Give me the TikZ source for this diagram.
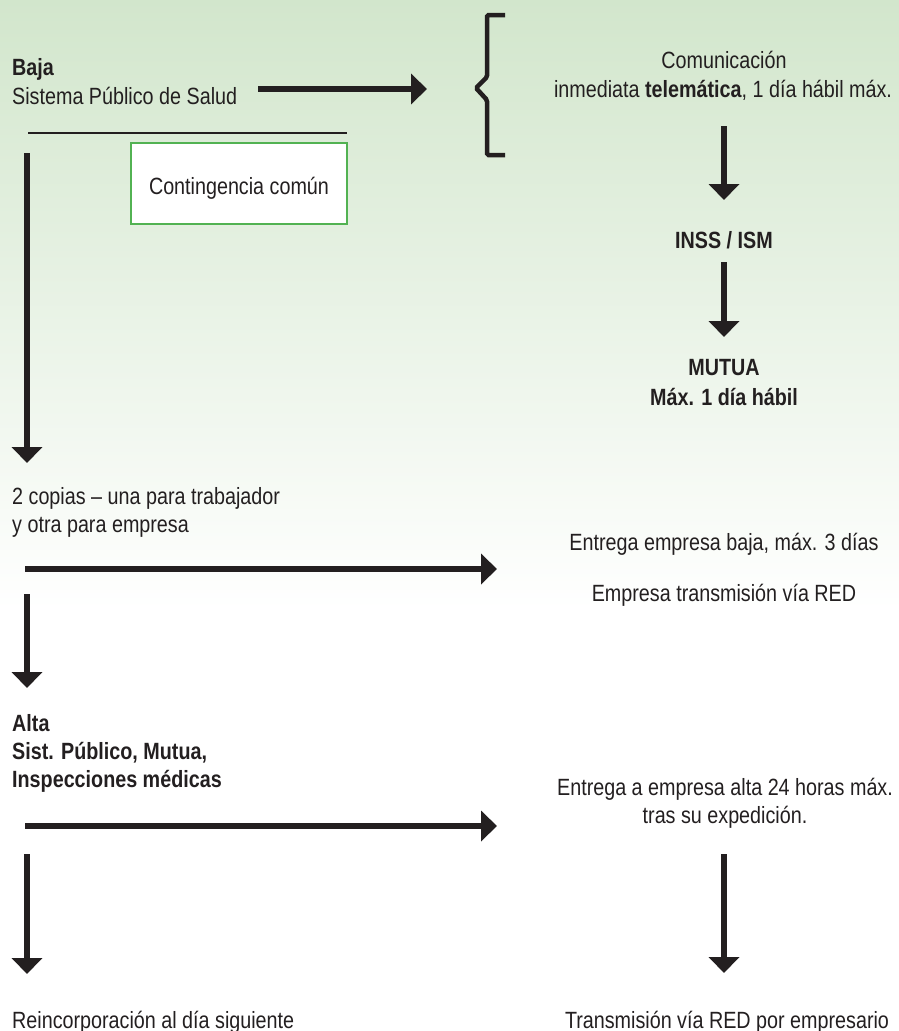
\documentclass[tikz,border=0pt]{standalone}
\usepackage{fontspec}
\setmainfont{Liberation Sans}[FakeStretch=0.84]
\usetikzlibrary{arrows.meta}
\definecolor{ink}{RGB}{35,31,32}
\definecolor{bgtop}{RGB}{210,230,204}
\definecolor{boxgreen}{RGB}{82,178,82}

\begin{document}
\begin{tikzpicture}[x=1pt,y=-1pt,
  txt/.style={inner sep=0pt, text=ink, font=\fontsize{23.5}{28}\selectfont},
  lefttxt/.style={txt, anchor=base west},
  midtxt/.style={txt, anchor=base},
  flow/.style={draw=ink, line width=5.5pt, -{Triangle[length=16pt,width=30pt]}},
]
\useasboundingbox (0,0) rectangle (899,1031);
% background: soft green fading to white
\fill[white] (0,0) rectangle (899,1031);
\shade[top color=bgtop, bottom color=white] (0,0) rectangle (899,610);

% ---- sick leave issued ----
\node[lefttxt] (baja) at (12,75) {\textbf{Baja}};
\node[lefttxt] (sps) at (12,104) {Sistema Público de Salud};
\coordinate (a1s) at (258,89);
\coordinate (a1e) at (427,89);
\draw[flow] (a1s) -- (a1e);

\coordinate (rule1) at (28,133);
\coordinate (rule2) at (347,133);
\draw[ink, line width=2.5pt] (rule1) -- (rule2);

\node[draw=boxgreen, fill=white, line width=1.5pt, minimum width=216pt,
      minimum height=81pt, inner sep=0pt, text=ink,
      font=\fontsize{23.5}{28}\selectfont, text height=21pt, text depth=0pt]
      (cc) at (239,183.5) {Contingencia común};

% bracket
\draw[ink, line width=4.5pt, rounded corners=1.5pt]
  (505,15) -- (487,15) -- (487,77) -- (476,88) -- (487,100) -- (487,155) -- (505,155);

\node[midtxt] (com1) at (724,68) {Comunicación};
\node[midtxt] (com2) at (723,97) {inmediata \textbf{telemática}, 1 día hábil máx.};

\coordinate (r1s) at (724,126);
\coordinate (r1e) at (724,200);
\draw[flow] (r1s) -- (r1e);
\node[midtxt] (inss) at (724,248) {\textbf{INSS / ISM}};
\coordinate (r2s) at (724,262);
\coordinate (r2e) at (724,337);
\draw[flow] (r2s) -- (r2e);
\node[midtxt] (mutua) at (724,375) {\textbf{MUTUA}};
\node[midtxt] (mutua2) at (724,405) {\textbf{Máx. 1 día hábil}};

% ---- copies ----
\coordinate (l1s) at (27,153);
\coordinate (l1e) at (27,463);
\draw[flow] (l1s) -- (l1e);
\node[lefttxt] (cop1) at (12,504) {2 copias – una para trabajador};
\node[lefttxt] (cop2) at (12,532) {y otra para empresa};

\coordinate (h2s) at (25,569);
\coordinate (h2e) at (497,569);
\draw[flow] (h2s) -- (h2e);
\node[midtxt] (ent1) at (724,550) {Entrega empresa baja, máx. 3 días};
\node[midtxt] (ent2) at (724,601) {Empresa transmisión vía RED};

% ---- discharge ----
\coordinate (l2s) at (27,594);
\coordinate (l2e) at (27,688);
\draw[flow] (l2s) -- (l2e);
\node[lefttxt] (alta) at (12,731) {\textbf{Alta}};
\node[lefttxt] (alta2) at (12,759) {\textbf{Sist. Público, Mutua,}};
\node[lefttxt] (alta3) at (12,787) {\textbf{Inspecciones médicas}};

\coordinate (h3s) at (25,826);
\coordinate (h3e) at (497,826);
\draw[flow] (h3s) -- (h3e);
\node[midtxt] (ea1) at (725,795) {Entrega a empresa alta 24 horas máx.};
\node[midtxt] (ea2) at (725,823) {tras su expedición.};

\coordinate (l3s) at (27,854);
\coordinate (l3e) at (27,974);
\draw[flow] (l3s) -- (l3e);
\node[lefttxt] (rein) at (12,1028) {Reincorporación al día siguiente};

\coordinate (r3s) at (724,854);
\coordinate (r3e) at (724,973);
\draw[flow] (r3s) -- (r3e);
\node[midtxt] (trans) at (727,1028) {Transmisión vía RED por empresario};
\end{tikzpicture}
\end{document}
